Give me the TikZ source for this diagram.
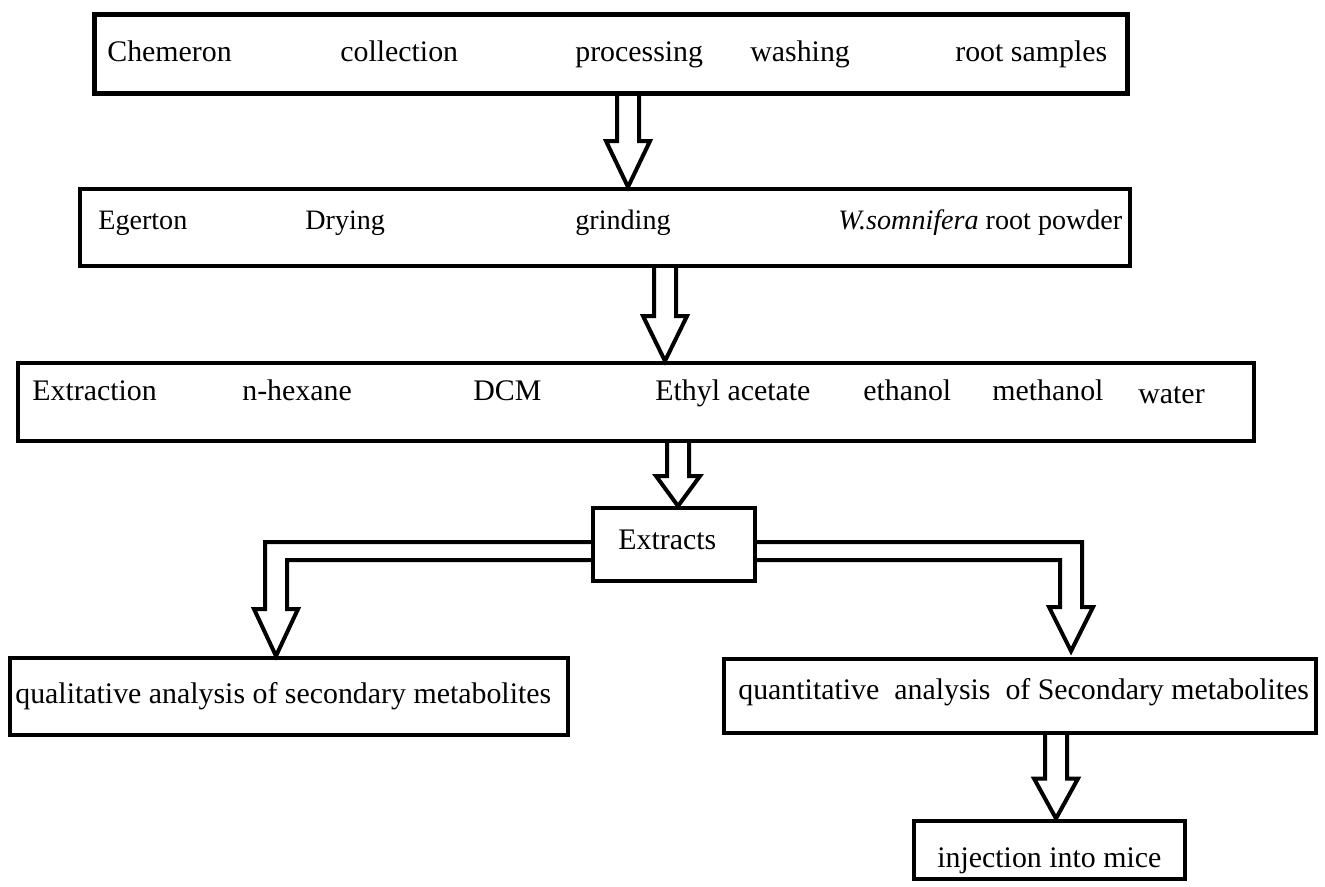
\documentclass[tikz,border=0pt]{standalone}
\usepackage{fontspec}
\setmainfont{Liberation Serif}
\usetikzlibrary{calc}

% hollow block arrow pointing down: [head length]{x}{upper node}{lower node}
\newcommand{\hollowdown}[4][45]{%
  \coordinate (hdtop) at (#3.south -| #2,0);
  \coordinate (hdtip) at (#4.north -| #2,0);
  \draw[hollow] ($(hdtop)+(-11,0)$) -- ($(hdtip)+(-11,-#1)$) -- ++(-11,0)
    -- (hdtip) -- ($(hdtip)+(22,-#1)$) -- ++(-11,0) -- ($(hdtop)+(11,0)$);
}

\begin{document}
\begin{tikzpicture}[
  x=0.02cm, y=-0.02cm,
  stepbox/.style={draw, line width=0.08cm, inner sep=0pt},
  word/.style={anchor=base west, inner sep=0pt, font=\fontsize{17}{20}\selectfont},
  smallword/.style={word, font=\fontsize{16}{19}\selectfont},
  hollow/.style={line width=0.08cm, line join=miter},
]
\useasboundingbox (0,0) rectangle (1325,886);

% Row 1: collection
\node[stepbox, line width=0.1cm, minimum width=20.66cm, minimum height=1.58cm] (chem) at (611,54) {};
\node[word] (chemA) at (107,61) {Chemeron};
\node[word] (chemB) at (340,61) {collection};
\node[word] (chemC) at (575,61) {processing};
\node[word] (chemD) at (750,61) {washing};
\node[word] (chemE) at (955,61) {root samples};

% Row 2: drying
\node[stepbox, minimum width=21.0cm, minimum height=1.54cm] (egert) at (605,227.5) {};
\node[smallword] (egertA) at (98,229) {Egerton};
\node[smallword] (egertB) at (305,229) {Drying};
\node[smallword] (egertC) at (575,229) {grinding};
\node[smallword] (egertD) at (838,229) {\textit{W.somnifera} root powder};

% Row 3: solvents
\node[stepbox, minimum width=24.72cm, minimum height=1.56cm] (extr) at (636,402) {};
\node[word] (extrA) at (32,400) {Extraction};
\node[word] (extrB) at (242,400) {n-hexane};
\node[word] (extrC) at (473,400) {DCM};
\node[word] (extrD) at (655,400) {Ethyl acetate};
\node[word] (extrE) at (863,400) {ethanol};
\node[word] (extrF) at (992,400) {methanol};
\node[word] (extrG) at (1138,403) {water};

% Row 4: extracts
\node[stepbox, minimum width=3.24cm, minimum height=1.46cm] (ext) at (674,544.5) {};
\node[word] (extA) at (618,549) {Extracts};

% Row 5: analyses
\node[stepbox, minimum width=11.16cm, minimum height=1.54cm] (qual) at (289,696.5) {};
\node[word] (qualA) at (15,703) {qualitative analysis of secondary metabolites};
\node[stepbox, minimum width=11.84cm, minimum height=1.48cm] (quant) at (1020,696) {};
\node[word] (quantA) at (738,699) {quantitative\ \ analysis\ \ of Secondary metabolites};

% Row 6: mice
\node[stepbox, minimum width=5.42cm, minimum height=1.16cm] (mice) at (1049.5,849.5) {};
\node[word] (miceA) at (937,867) {injection into mice};

% Arrows (hollow block arrows, downward)
\hollowdown[46]{628}{chem}{egert}
\hollowdown{665}{egert}{extr}
\hollowdown[30]{678}{extr}{ext}
\hollowdown[40]{1056}{quant}{mice}

% Branches from Extracts
\coordinate (lfork) at (qual.north -| 276,0);
\draw[hollow] ($(ext.west)+(0,-2.5)$) -| ($(lfork)+(-11,-47)$) -- ++(-11,0)
  -- (lfork) -- ++(22,-47) -- ++(-11,0) |- ($(ext.west)+(0,15.5)$);
\coordinate (rfork) at ($(quant.north -| 1071,0)+(0,-6)$);
\draw[hollow] ($(ext.east)+(0,-2.5)$) -| ($(rfork)+(11,-44)$) -- ++(11,0)
  -- (rfork) -- ++(-22,-44) -- ++(11,0) |- ($(ext.east)+(0,15.5)$);

\end{tikzpicture}
\end{document}
